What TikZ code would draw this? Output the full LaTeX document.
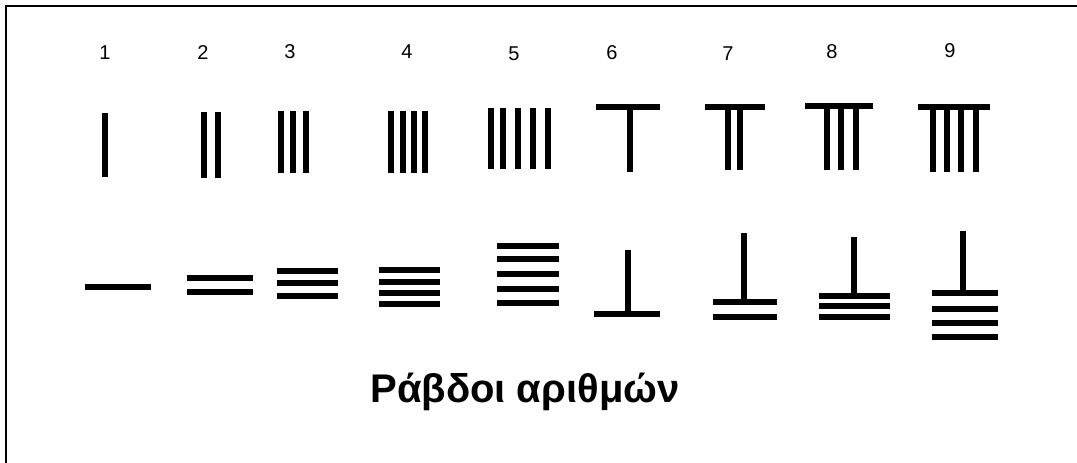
\documentclass[tikz,border=0pt]{standalone}
\usepackage{fontspec}
\setmainfont{Liberation Sans}
\begin{document}
\begin{tikzpicture}[x=1pt,y=-1pt,
  rod/.style={line width=5.5pt, line cap=butt},
  digit/.style={font=\fontsize{20}{20}\selectfont, inner sep=0pt},
  titletext/.style={font=\bfseries\fontsize{40}{40}\selectfont, inner sep=0pt}]
\useasboundingbox (0,0) rectangle (1077,463);
% frame (only top and left edges visible)
\draw[line width=2.5pt] (6,470) -- (6,6) -- (1085,6);
% digit labels
\node[digit] (d1) at (105,53) {1};
\node[digit] (d2) at (203,53) {2};
\node[digit] (d3) at (290,52) {3};
\node[digit] (d4) at (407,52) {4};
\node[digit] (d5) at (514,54) {5};
\node[digit] (d6) at (612,53) {6};
\node[digit] (d7) at (728,54) {7};
\node[digit] (d8) at (832,52) {8};
\node[digit] (d9) at (950,51) {9};
% vertical-form numerals (top row)
\draw[rod] (105,113) -- (105,177);
\foreach \x in {204,218} \draw[rod] (\x,112) -- (\x,178);
\foreach \x in {281,293,306} \draw[rod] (\x,111) -- (\x,173);
\foreach \x in {391,403,414,425} \draw[rod] (\x,111) -- (\x,173);
\foreach \x in {491,503,518,533,548} \draw[rod] (\x,108) -- (\x,169);
\draw[rod] (596,107) -- (660,107);
\draw[rod] (630,107) -- (630,172);
\draw[rod] (705,107) -- (765,107);
\foreach \x in {728,740} \draw[rod] (\x,107) -- (\x,170);
\draw[rod] (805,106) -- (873,106);
\foreach \x in {827,841,856} \draw[rod] (\x,106) -- (\x,170);
\draw[rod] (918,107) -- (990,107);
\foreach \x in {933,947,961,976} \draw[rod] (\x,107) -- (\x,172);
% horizontal-form numerals (bottom row)
\draw[rod] (85,287) -- (151,287);
\foreach \y in {278,292} \draw[rod] (187,\y) -- (253,\y);
\foreach \y in {271,283,296} \draw[rod] (277,\y) -- (338,\y);
\foreach \y in {270,282,293,304} \draw[rod] (379,\y) -- (440,\y);
\foreach \y in {246,259,274,289,303} \draw[rod] (497,\y) -- (559,\y);
\draw[rod] (628,250) -- (628,314);
\draw[rod] (594,314) -- (660,314);
\draw[rod] (744,233) -- (744,302);
\foreach \y in {302,317} \draw[rod] (713,\y) -- (777,\y);
\draw[rod] (854,237) -- (854,296);
\foreach \y in {296,306,317} \draw[rod] (819,\y) -- (890,\y);
\draw[rod] (963,231) -- (963,293);
\foreach \y in {293,309,323,337} \draw[rod] (932,\y) -- (998,\y);
% title
\node[titletext] (title) at (525,392) {Ράβδοι αριθμών};
\end{tikzpicture}
\end{document}
